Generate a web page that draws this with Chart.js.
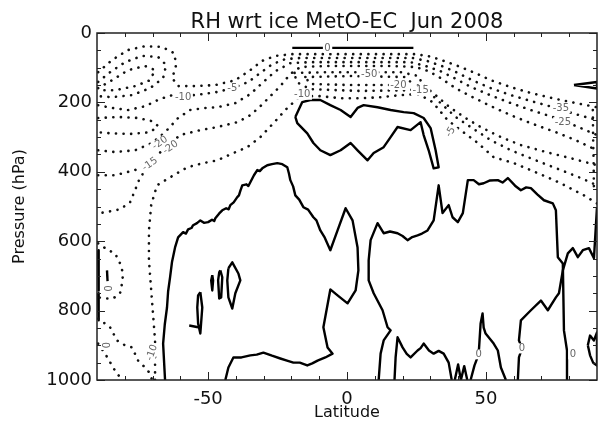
<!DOCTYPE html>
<html>
<head>
<meta charset="utf-8">
<title>RH wrt ice MetO-EC Jun 2008</title>
<script src="https://cdn.jsdelivr.net/npm/chart.js@4.4.1/dist/chart.umd.min.js"></script>
<style>
  html, body { margin: 0; padding: 0; background: #fff; }
  #wrap { width: 600px; height: 426px; }
</style>
</head>
<body>
<div id="wrap"><canvas id="rhChart" width="600" height="426"></canvas></div>
<script>
// axis ticks
const xMajorTicks = [-50, 0, 50];
const xMinorTicks = [-80, -70, -60, -40, -30, -20, -10, 10, 20, 30, 40, 60, 70, 80];
const yMajorTicks = [0, 200, 400, 600, 800, 1000];
const yMinorTicks = [50, 100, 150, 250, 300, 350, 450, 500, 550, 650, 700, 750, 850, 900, 950];

// zero contours (solid), [latitude, pressure]
const zeroTop = [[-19.7,43],[23.9,43]];
const zeroA = [[-65.5,1000],[-66.2,895],[-65.6,840],[-64.8,791],[-64.4,745],[-63.7,704],[-63.0,660],[-61.9,618],[-60.8,589],[-59.0,574],[-58.0,578],[-57.2,566],[-56.0,562],[-55.4,554],[-54.0,548],[-52.8,540],[-51.5,547],[-50.0,545],[-48.6,538],[-47.8,542],[-47.4,534],[-46.0,520],[-44.9,511],[-43.5,505],[-42.6,508],[-42.0,496],[-40.8,488],[-39.5,473],[-38.9,468],[-38.4,455],[-37.7,439],[-36.2,436],[-35.5,441],[-34.8,430],[-33.5,410],[-32.3,395],[-31.4,398],[-30.5,390],[-28.7,381],[-27.0,378],[-25.1,375],[-23.3,378],[-21.5,387],[-20.9,405],[-20.4,424],[-19.4,442],[-18.6,468],[-17.2,480],[-15.7,502],[-14.0,509],[-12.1,531],[-11.0,540],[-9.6,569],[-8.0,590],[-6.0,626],[-3.4,569],[-0.5,505],[2.0,540],[3.8,618],[4.1,684],[3.1,742],[0.2,779],[-3.4,756],[-6.0,739],[-8.5,848],[-7.0,906],[-5.2,924],[-7.8,935],[-10.6,944],[-12.5,952],[-14.3,958],[-17.0,950],[-19.3,950],[-21.6,944],[-24.0,938],[-27.0,930],[-30.1,921],[-32.5,927],[-34.8,929],[-38.0,935],[-40.9,935],[-42.7,964],[-43.8,1000]];
const zeroB = [[11.4,1000],[12.1,924],[13.2,886],[15.7,857],[14.6,848],[12.8,799],[9.6,750],[7.8,713],[7.8,655],[8.5,597],[11.0,548],[13.2,577],[15.5,572],[18.2,577],[20.0,585],[21.8,597],[23.5,588],[25.4,583],[27.0,578],[29.0,569],[31.2,540],[33.0,439],[34.4,519],[36.6,496],[38.0,531],[39.9,545],[41.7,519],[43.5,424],[45.6,424],[47.5,436],[49.2,433],[51.5,425],[54.3,424],[56.0,431],[57.9,418],[60.5,440],[62.6,453],[64.5,445],[66.2,447],[68.5,465],[70.9,482],[74.1,491],[75.2,511],[75.9,646],[77.7,664],[78.1,857],[79.2,915],[79.2,1000]];
const zeroC = [[17.1,1000],[17.5,935],[18.2,877],[20.0,906],[21.5,925],[22.9,935],[25.4,915],[26.5,908],[27.6,895],[29.5,915],[31.2,924],[33.0,916],[34.8,924],[36.6,950],[37.7,1000]];
const zeroC2 = [[38.8,1000],[40.0,955],[41.0,1000],[42.2,960],[43.3,1000]];
const zeroD = [[44.5,1000],[45.9,958],[47.4,926],[48.1,837],[48.8,808],[49.2,849],[49.9,866],[52.8,895],[54.3,915],[55.4,964],[57.2,1000]];
const zeroF = [[61.5,1000],[61.9,935],[63.0,909],[61.9,886],[62.6,828],[66.2,799],[69.8,771],[72.3,799],[75.2,762],[76.3,750],[77.7,684],[79.5,635],[81.3,620],[83.1,646],[84.9,626],[87.1,620],[88.9,649],[90,502]];
const zeroH = [[-18.6,242],[-16.1,199],[-13.2,193],[-9.6,193],[-6.0,208],[-2.3,222],[1.3,242],[3.8,216],[6.0,208],[11.0,214],[15.7,222],[20.4,228],[24.0,231],[27.6,245],[30.1,274],[31.9,338],[33.0,387],[31.2,390],[29.4,338],[27.6,294],[26.5,257],[22.9,280],[18.2,271],[15.7,300],[13.2,329],[9.6,346],[7.4,367],[3.8,338],[1.3,317],[-2.3,338],[-6.0,352],[-9.6,338],[-12.1,317],[-14.3,289],[-17.9,260],[-18.6,242]];
const blob1 = [[-42.7,678],[-41.3,661],[-39.1,693],[-38.4,713],[-40.2,750],[-41.3,794],[-42.7,762],[-43.1,713],[-42.7,678]];
const blob2 = [[-45.6,684],[-44.9,704],[-45.3,762],[-46.0,765],[-46.4,713],[-46.0,690],[-45.6,684]];
const blob3 = [[-48.5,698],[-48.2,713],[-48.5,742],[-48.9,713],[-48.5,698]];
const blob4 = [[-52.8,747],[-52.1,791],[-52.8,866],[-53.6,837],[-53.9,791],[-53.6,756],[-52.8,747]];
const blob4Tail = [[-56.8,843],[-53.6,848]];
const edgeL1 = [[-89.6,626],[-89.4,742]];
const edgeL2 = [[-89.6,750],[-89.4,828]];
const edgeL3 = [[-86.4,684],[-86.2,715]];
const wedgeR = [[81.7,150],[90,141],[90,160],[81.7,150]];
const blobR = [[86.7,900],[87.5,872],[88.9,886],[90,863],[90,958],[88.6,950],[87.5,929],[86.7,900]];

// negative contours (dotted)
const negOuter = [[-69.1,1000],[-69.1,886],[-70.2,771],[-71.3,655],[-71.3,569],[-70.5,496],[-68.4,439],[-63.7,416],[-57.5,387],[-51.8,375],[-46.7,367],[-40.9,346],[-35.9,329],[-31.2,300],[-26.5,260],[-21.5,216],[-16.8,182],[-9.6,182],[-2.3,188],[4.9,188],[12.1,185],[19.3,179],[25.8,176],[30.8,199],[36.2,251],[40.9,280],[47.1,317],[52.8,358],[60.1,375],[68.7,404],[77.0,433],[85.3,468],[90,491]];
const negArc1 = [[-89.6,410],[-83.5,410],[-76.3,395],[-70.9,369],[-65.5,332],[-60.1,294],[-52.8,280],[-46.7,271],[-39.5,257],[-34.8,237],[-31.2,211],[-27.6,182],[-24.0,153],[-20.4,118],[-16.8,98],[-6.0,95],[4.9,95],[15.7,95],[24.7,98],[29.4,110],[33.7,130],[39.1,159],[44.5,182],[51.8,211],[59.0,237],[66.2,260],[75.2,286],[82.4,309],[90,338]];
const negArc2 = [[-89.6,338],[-83.5,343],[-76.3,338],[-70.2,317],[-65.5,286],[-60.8,245],[-56.5,222],[-51.0,216],[-46.7,214],[-40.2,202],[-34.8,176],[-30.5,144],[-25.8,110],[-20.4,87],[-13.2,84],[-2.3,84],[12.1,84],[22.9,84],[28.3,95],[33.7,110],[39.1,132],[44.5,155],[51.8,180],[59.0,202],[66.2,222],[75.2,245],[82.4,268],[90,294]];
const negArc3 = [[-89.6,208],[-84.6,216],[-78.8,222],[-72.7,211],[-67.3,190],[-62.9,179],[-58.3,182],[-51.8,176],[-46.7,170],[-41.3,159],[-35.5,141],[-31.2,115],[-26.9,90],[-22.2,75],[-16.8,72],[-2.3,72],[12.1,72],[23.6,72],[29.0,81],[34.4,96],[39.9,115],[45.3,137],[51.8,159],[59.0,179],[66.2,196],[75.2,216],[82.4,234],[90,251]];
const negArc4 = [[-89.6,113],[-84.6,78],[-78.8,49],[-72.7,38],[-66.6,40],[-62.2,58],[-61.5,92],[-62.9,130],[-60.8,153],[-54.7,153],[-47.4,150],[-40.2,136],[-34.8,107],[-30.5,80],[-25.8,66],[-19.7,61],[-2.3,61],[12.1,61],[24.7,61],[30.1,68],[35.5,82],[40.9,98],[46.3,116],[51.8,136],[59.0,156],[66.2,173],[75.2,190],[82.4,202],[90,214]];
const negLeftTop1 = [[-89.6,141],[-85.3,113],[-79.9,84],[-73.8,66],[-68.0,69],[-65.1,92],[-66.2,130],[-70.9,159],[-77.4,179],[-84.6,185],[-89.6,182]];
const negLeftTop2 = [[-89.6,159],[-84.6,136],[-78.8,107],[-72.7,95],[-69.1,107],[-70.9,136],[-76.3,153],[-83.5,165],[-89.6,165]];
const negLeftMid = [[-89.6,245],[-82.4,242],[-75.2,245],[-70.2,254],[-68.0,268],[-70.9,286],[-78.1,291],[-85.3,289],[-89.6,286]];
const negLeftDrop = [[-71.9,390],[-74.5,416],[-76.3,453],[-78.1,488],[-81.7,508],[-87.1,517],[-89.6,519]];
const negLeftLow1 = [[-89.6,606],[-86.0,626],[-83.5,635],[-81.7,664],[-80.6,693],[-81.0,722],[-81.7,750],[-84.2,765],[-87.1,765],[-89.6,762]];
const negLeftLow2 = [[-89.6,823],[-85.3,848],[-82.8,886],[-79.9,900],[-77.4,906],[-75.2,944],[-72.7,964],[-70.9,981],[-70.2,1000]];
const negLeftLow3 = [[-89.6,895],[-87.1,924],[-83.5,973],[-81.0,1000]];
const negCore1 = [[-18.9,115],[-6.0,113],[19.3,113],[25.8,124],[26.9,144],[22.9,165],[4.9,167],[-13.2,162],[-18.2,141],[-18.9,115]];
const negCore2 = [[-15.0,127],[1.3,124],[21.1,127],[22.9,141],[19.3,150],[1.3,150],[-13.2,147],[-15.0,127]];
const negRight1 = [[27.9,153],[31.9,179],[37.3,216],[42.7,245],[48.1,271],[55.4,300],[62.6,323],[71.6,343],[80.6,361],[90,381]];
const negRight2 = [[29.4,170],[33.7,202],[39.1,242],[44.5,271],[51.8,309],[59.0,338],[68.0,367],[77.0,395],[84.2,418],[90,439]];
const negRightEdge = [[88.5,222],[88.6,300],[88.8,380],[88.9,453]];

// contour labels: latitude, pressure, text, rotation (deg)
const contourLabels = [
  [-59.0,185,'-10',0], [-41.3,159,'-5',0], [-16.1,178,'-10',0], [18.5,150,'-20',0],
  [26.5,165,'-15',0], [37.3,285,'-5',-60], [77.0,216,'-35',0], [77.7,257,'-25',0],
  [8.0,120,'-50',0], [-67.3,317,'-20',-35], [-63.5,330,'-20',-35], [-70.9,378,'-15',-35],
  [-70.2,921,'-10',-70], [-7.0,43,'0',0], [47.4,926,'0',0], [63.0,909,'0',0],
  [81.3,926,'0',0], [-86.4,736,'0',90], [-87.1,900,'0',90]
];

const FONT = '"DejaVu Sans", "Liberation Sans", sans-serif';
const toPts = arr => arr.map(([x, y]) => ({ x, y }));
const solid = arr => ({ data: toPts(arr), showLine: true, borderColor: '#000', borderWidth: 2.4,
  borderJoinStyle: 'round', pointRadius: 0, fill: false, tension: 0 });
const dotted = arr => ({ data: toPts(arr), showLine: true, borderColor: '#111', borderWidth: 2.6,
  borderDash: [0.1, 7.5], borderCapStyle: 'round', pointRadius: 0, fill: false, tension: 0 });

const dottedSets = [negOuter, negArc1, negArc2, negArc3, negArc4, negLeftTop1, negLeftTop2, negLeftMid,
  negLeftDrop, negLeftLow1, negLeftLow2, negLeftLow3, negCore1, negCore2, negRight1, negRight2, negRightEdge].map(dotted);
const solidSets = [zeroTop, zeroA, zeroB, zeroC, zeroC2, zeroD, zeroF, zeroH, blob1, blob2, blob3, blob4,
  blob4Tail, edgeL1, edgeL2, edgeL3, wedgeR, blobR].map(solid);

// contour labels, inward ticks and the frame
const frameAndLabels = {
  id: 'frameAndLabels',
  afterDatasetsDraw(chart) {
    const { ctx, chartArea: a, scales: { x, y } } = chart;
    ctx.save();
    ctx.font = '10px ' + FONT;
    ctx.textAlign = 'center';
    ctx.textBaseline = 'middle';
    contourLabels.forEach(([lat, p, txt, rot]) => {
      ctx.save();
      ctx.translate(x.getPixelForValue(lat), y.getPixelForValue(p));
      ctx.rotate(rot * Math.PI / 180);
      const w = ctx.measureText(txt).width + 3;
      ctx.fillStyle = '#fff';
      ctx.fillRect(-w / 2, -5, w, 10);
      ctx.fillStyle = '#666';
      ctx.fillText(txt, 0, 0);
      ctx.restore();
    });

    ctx.strokeStyle = '#222';
    ctx.lineWidth = 1;
    ctx.beginPath();
    const xt = (v, len) => {
      const px = Math.round(x.getPixelForValue(v)) + 0.5;
      ctx.moveTo(px, a.bottom); ctx.lineTo(px, a.bottom - len);
      ctx.moveTo(px, a.top); ctx.lineTo(px, a.top + len);
    };
    const yt = (v, len) => {
      const py = Math.round(y.getPixelForValue(v)) + 0.5;
      ctx.moveTo(a.left, py); ctx.lineTo(a.left + len, py);
      ctx.moveTo(a.right, py); ctx.lineTo(a.right - len, py);
    };
    xMajorTicks.forEach(v => xt(v, 8));
    xMinorTicks.forEach(v => xt(v, 4));
    yMajorTicks.forEach(v => yt(v, 8));
    yMinorTicks.forEach(v => yt(v, 4));
    ctx.stroke();

    ctx.lineWidth = 1.5;
    ctx.strokeRect(a.left, a.top, a.right - a.left, a.bottom - a.top);
    ctx.restore();
  }
};

new Chart(document.getElementById('rhChart'), {
  type: 'scatter',
  data: { datasets: [...dottedSets, ...solidSets] },
  options: {
    responsive: false,
    maintainAspectRatio: false,
    animation: false,
    devicePixelRatio: 1,
    layout: { padding: { left: 0, right: 3, top: 0, bottom: 0 } },
    plugins: {
      legend: { display: false },
      tooltip: { enabled: false },
      title: {
        display: true, fullSize: false,
        text: 'RH wrt ice MetO-EC  Jun 2008',
        color: '#111',
        font: { family: FONT, size: 21, weight: 'normal', lineHeight: 1.0 },
        padding: { top: 12, bottom: 0 }
      }
    },
    scales: {
      x: {
        type: 'linear', min: -90, max: 90,
        grid: { display: false, drawTicks: false },
        border: { display: false },
        afterBuildTicks: s => { s.ticks = xMajorTicks.map(v => ({ value: v })); },
        afterFit: s => { s.height = 46; },
        ticks: { font: { family: FONT, size: 18 }, color: '#111', padding: 9, maxRotation: 0,
          callback: v => String(v) },
        title: { display: true, text: 'Latitude', color: '#111',
          font: { family: FONT, size: 16 }, padding: { top: 0, bottom: 4 } }
      },
      y: {
        type: 'linear', min: 0, max: 1000, reverse: true,
        grid: { display: false, drawTicks: false },
        border: { display: false },
        afterBuildTicks: s => { s.ticks = yMajorTicks.map(v => ({ value: v })); },
        afterFit: s => { s.width = 97; },
        ticks: { font: { family: FONT, size: 18 }, color: '#111', padding: 5,
          callback: v => String(v) },
        title: { display: true, text: 'Pressure (hPa)', color: '#111',
          font: { family: FONT, size: 16 }, padding: { top: 10, bottom: 0 } }
      }
    }
  },
  plugins: [frameAndLabels]
});
</script>
</body>
</html>
